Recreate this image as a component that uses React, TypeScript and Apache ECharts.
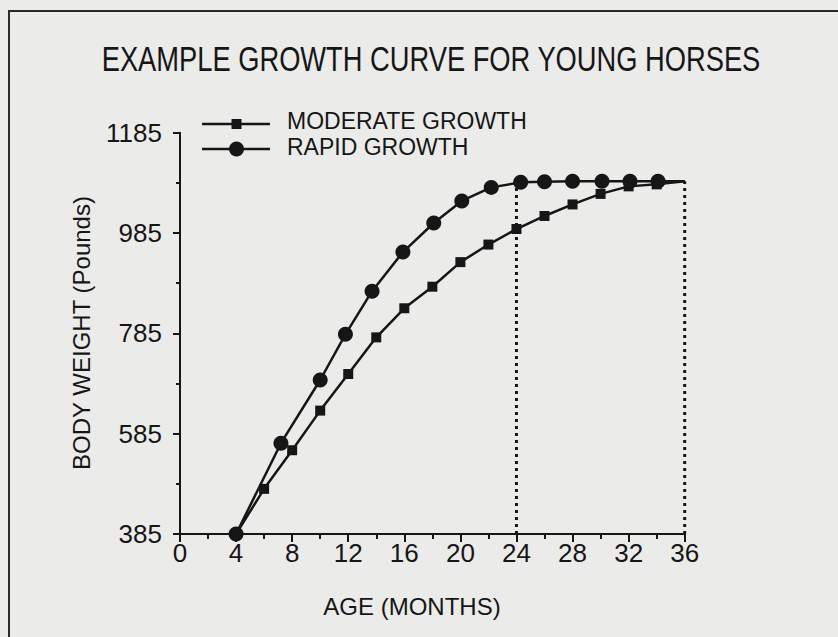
import React, { useEffect, useRef } from "react";
import * as echarts from "echarts";

const titleText = "EXAMPLE GROWTH CURVE FOR YOUNG HORSES";
const xAxisTitle = "AGE (MONTHS)";
const yAxisTitle = "BODY WEIGHT (Pounds)";
const seriesNames = ["MODERATE GROWTH", "RAPID GROWTH"];

const moderateMonths = [4, 6, 8, 10, 12, 14, 16, 18, 20, 22, 24, 26, 28, 30, 32, 34, 36];
const moderateWeights = [385, 475, 552, 631, 704, 777, 835, 878, 927, 962, 993, 1019, 1042, 1063, 1078, 1082, 1088];

const rapidMonths = [4, 7.2, 10, 11.8, 13.7, 15.9, 18.1, 20.1, 22.2, 24.3, 26, 28, 30.1, 32.1, 34.1, 36];
const rapidWeights = [385, 566, 692, 783, 869, 947, 1005, 1049, 1076, 1086, 1087, 1088, 1088, 1088, 1088, 1088];

const referenceMonths = [24, 36];
const xMin = 0;
const xMax = 36;
const xStep = 4;
const yMin = 385;
const yMax = 1185;
const yStep = 200;

const INK = "#161616";
const FONT = "'Liberation Sans', Arial, sans-serif";

function toData(months: number[], weights: number[]) {
  return months.map((m, i) =>
    i === months.length - 1 ? { value: [m, weights[i]], symbol: "none" } : [m, weights[i]]
  );
}

export default function App() {
  const ref = useRef<HTMLDivElement>(null);
  useEffect(() => {
    if (!ref.current) return;
    const chart = echarts.init(ref.current, undefined, { renderer: "svg" });
    const plateau = rapidWeights[rapidWeights.length - 1];
    const refSeries = referenceMonths.map((m, i) => ({
      name: "ref" + i,
      type: "line",
      data: [
        [m, yMin],
        [m, plateau],
      ],
      symbol: "none",
      lineStyle: { color: INK, width: 3, type: [3, 4] },
      z: 1,
      silent: true,
    }));
    chart.setOption({
      animation: false,
      backgroundColor: "#ebebe9",
      grid: { left: 180, top: 132.7, right: 153.3, bottom: 103, containLabel: false },
      xAxis: {
        type: "value",
        min: xMin,
        max: xMax,
        interval: xStep,
        axisLine: { show: true, lineStyle: { color: INK, width: 2 } },
        axisTick: { show: true, inside: false, length: 8, lineStyle: { color: INK, width: 2 } },
        minorTick: { show: true, splitNumber: 2, length: 5, lineStyle: { color: INK, width: 2 } },
        splitLine: { show: false },
        axisLabel: { color: INK, fontSize: 26, fontFamily: FONT, margin: 6, formatter: (v: number) => String(v) },
      },
      yAxis: {
        type: "value",
        min: yMin,
        max: yMax,
        interval: yStep,
        axisLine: { show: true, lineStyle: { color: INK, width: 2 } },
        axisTick: { show: true, inside: false, length: 7, lineStyle: { color: INK, width: 2 } },
        minorTick: { show: true, splitNumber: 2, length: 4, lineStyle: { color: INK, width: 2 } },
        splitLine: { show: false },
        axisLabel: { color: INK, fontSize: 26, fontFamily: FONT, margin: 18, formatter: (v: number) => String(v) },
      },
      series: [
        ...refSeries,
        {
          name: seriesNames[0],
          type: "line",
          data: toData(moderateMonths, moderateWeights),
          symbol: "rect",
          symbolSize: 10,
          itemStyle: { color: INK },
          lineStyle: { color: INK, width: 2.5 },
          z: 3,
        },
        {
          name: seriesNames[1],
          type: "line",
          data: toData(rapidMonths, rapidWeights),
          symbol: "circle",
          symbolSize: 15,
          itemStyle: { color: INK },
          lineStyle: { color: INK, width: 2.5 },
          z: 4,
        },
      ],
      graphic: [
        {
          type: "polyline",
          shape: { points: [[9, 640], [9, 11], [840, 11]] },
          style: { stroke: "#2a2a2a", lineWidth: 2, fill: "none" },
          silent: true,
        },
        {
          type: "text",
          x: 431,
          y: 59,
          scaleX: 0.78,
          style: {
            text: titleText,
            fontSize: 35,
            fontFamily: FONT,
            fill: INK,
            textAlign: "center",
            textVerticalAlign: "middle",
          },
        },
        {
          type: "text",
          x: 412,
          y: 606,
          style: {
            text: xAxisTitle,
            fontSize: 24,
            fontFamily: FONT,
            fill: INK,
            textAlign: "center",
            textVerticalAlign: "middle",
          },
        },
        {
          type: "text",
          x: 81,
          y: 333,
          rotation: Math.PI / 2,
          style: {
            text: yAxisTitle,
            fontSize: 24,
            fontFamily: FONT,
            fill: INK,
            textAlign: "center",
            textVerticalAlign: "middle",
          },
        },
        // legend
        {
          type: "line",
          shape: { x1: 202, y1: 124, x2: 270, y2: 124 },
          style: { stroke: INK, lineWidth: 2.5 },
        },
        {
          type: "rect",
          shape: { x: 231.5, y: 119, width: 10, height: 10 },
          style: { fill: INK },
        },
        {
          type: "text",
          x: 287,
          y: 121,
          style: {
            text: seriesNames[0],
            fontSize: 23,
            fontFamily: FONT,
            fill: INK,
            textAlign: "left",
            textVerticalAlign: "middle",
          },
        },
        {
          type: "line",
          shape: { x1: 202, y1: 149, x2: 270, y2: 149 },
          style: { stroke: INK, lineWidth: 2.5 },
        },
        {
          type: "circle",
          shape: { cx: 236.5, cy: 149, r: 7.5 },
          style: { fill: INK },
        },
        {
          type: "text",
          x: 287,
          y: 147,
          style: {
            text: seriesNames[1],
            fontSize: 23,
            fontFamily: FONT,
            fill: INK,
            textAlign: "left",
            textVerticalAlign: "middle",
          },
        },
      ],
    });
    return () => chart.dispose();
  }, []);
  return (
    <div
      ref={ref}
      style={{ position: "absolute", left: 0, top: 0, width: 838, height: 637 }}
    />
  );
}
